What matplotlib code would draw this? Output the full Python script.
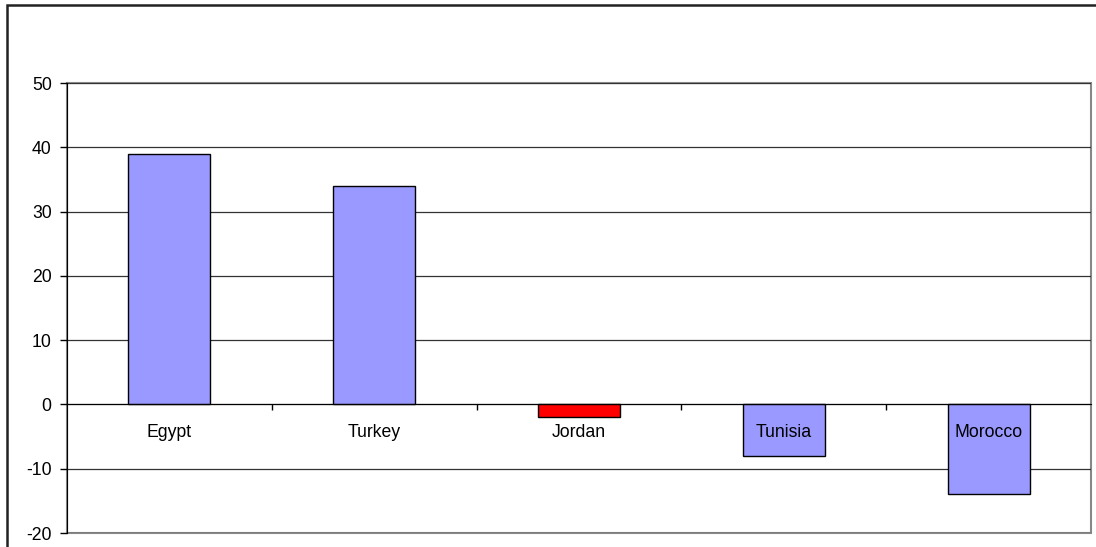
import matplotlib.pyplot as plt
from matplotlib.patches import Rectangle

countries = ["Egypt", "Turkey", "Jordan", "Tunisia", "Morocco"]
values = [39, 34, -2, -8, -14]
bar_colors = ["#9999FF", "#9999FF", "#FF0000", "#9999FF", "#9999FF"]
y_ticks = [-20, -10, 0, 10, 20, 30, 40, 50]

plt.rcParams['font.family'] = ['Liberation Sans', 'DejaVu Sans']

fig = plt.figure(figsize=(10.96, 5.47), dpi=100)
ax = fig.add_axes([67 / 1096, 1 - 533 / 547, 1024 / 1096, 450 / 547])

x = list(range(len(countries)))
ax.bar(x, values, width=0.4, color=bar_colors, edgecolor='black', linewidth=1, zorder=2)

ax.set_xlim(-0.5, len(countries) - 0.5)
ax.set_ylim(-20, 50)
ax.set_yticks(y_ticks)
ax.set_yticklabels([str(v) for v in y_ticks], fontsize=12.7)
ax.tick_params(axis='y', direction='out', length=5, width=1, color='black', pad=6)

ax.set_axisbelow(True)
ax.yaxis.grid(True, color='#333333', linewidth=0.9)

# x axis sits at zero with small category-boundary ticks
ax.spines['bottom'].set_position(('data', 0))
ax.spines['bottom'].set_color('black')
ax.set_xticks(x)
ax.set_xticklabels([])
ax.tick_params(axis='x', which='major', length=0)
ax.set_xticks([i + 0.5 for i in x[:-1]], minor=True)
ax.tick_params(axis='x', which='minor', direction='out', length=4, width=1, color='black')
ax.spines['left'].set_color('black')
ax.spines['top'].set_visible(False)
ax.spines['right'].set_visible(False)
ax.add_patch(Rectangle((0, 0), 1, 1, transform=ax.transAxes, fill=False,
                       edgecolor='#888888', linewidth=1.5, clip_on=False, zorder=0.4))

for i, name in zip(x, countries):
    ax.annotate(name, xy=(i, 0), xytext=(0, -20.5), textcoords='offset points',
                ha='center', va='center', fontsize=12.7, zorder=5)

# outer chart border
fig.patches.append(Rectangle((7 / 1096, -0.1), 1.2, 1 - 5 / 547 + 0.1,
                             transform=fig.transFigure, fill=False,
                             edgecolor='#222222', linewidth=1.8))

fig.savefig('out.png', dpi=100)
